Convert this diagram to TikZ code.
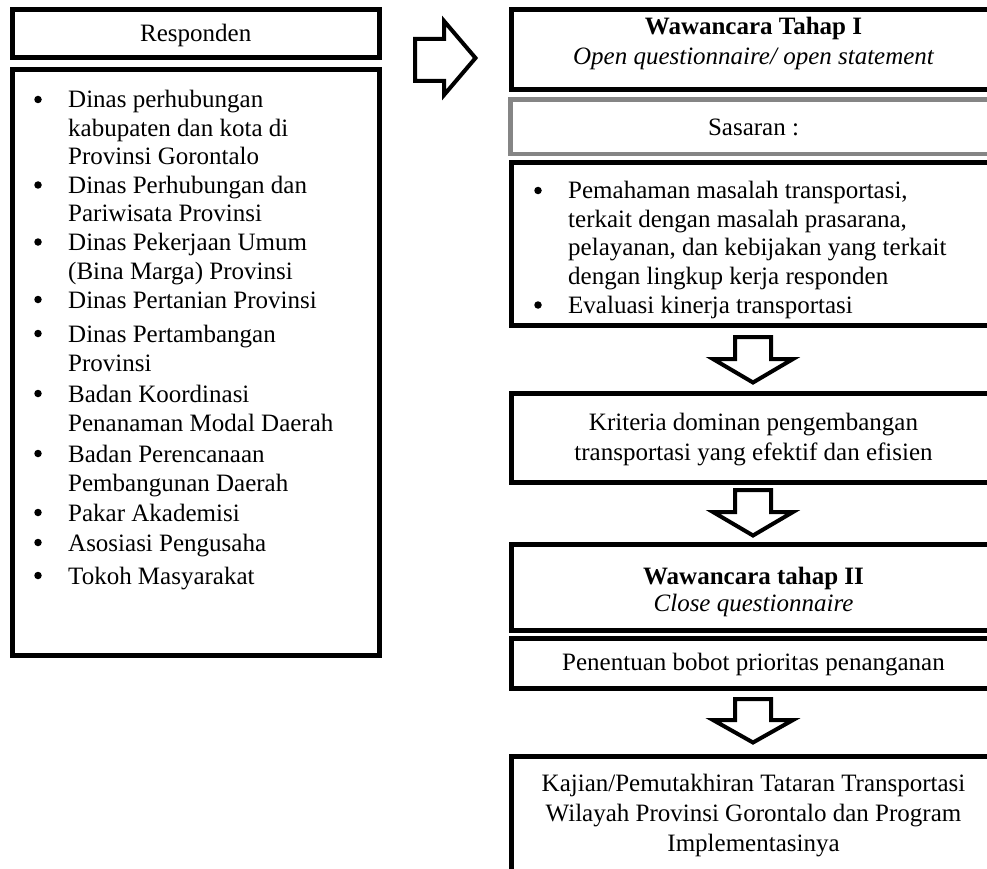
\documentclass[tikz,border=0pt]{standalone}
\usepackage{fontspec}
\setmainfont{Liberation Serif}
\usetikzlibrary{fit}
\definecolor{sasgray}{gray}{0.52}
\newcommand\dnarrow[4]{%
  \draw[blockarrow] (#1-18,#2) -- (#1+18,#2) -- (#1+18,#3) -- (#1+40,#3) -- (#1,#4) -- (#1-40,#3) -- (#1-18,#3) -- cycle;}
\begin{document}
\begin{tikzpicture}[x=1pt,y=-1pt,
  box/.style={draw=black, line width=5pt, inner sep=0pt},
  graybox/.style={draw=sasgray, line width=4.5pt, inner sep=0pt},
  blockarrow/.style={draw=black, line width=4pt, line join=miter},
  txt/.style={inner sep=0pt, font=\fontsize{25}{30}\selectfont},
  dot/.style={circle, fill=black, inner sep=0pt, minimum size=7.5pt},
  ]
\useasboundingbox (0,0) rectangle (987,869);
\clip (0,0) rectangle (987,869);

% ---------- left column ----------
\node[txt, anchor=base] (tresp) at (195.75,41.5) {Responden};

\node[dot] (b1) at (38,108-8.5) {};
\node[txt, anchor=base west] (l1) at (68,108) {Dinas perhubungan};
\node[txt, anchor=base west] (l2) at (68,136.5) {kabupaten dan kota di};
\node[txt, anchor=base west] (l3) at (68,165) {Provinsi Gorontalo};
\node[dot] (b2) at (38,193.5-8.5) {};
\node[txt, anchor=base west] (l4) at (68,193.5) {Dinas Perhubungan dan};
\node[txt, anchor=base west] (l5) at (68,222) {Pariwisata Provinsi};
\node[dot] (b3) at (38,250.5-8.5) {};
\node[txt, anchor=base west] (l6) at (68,250.5) {Dinas Pekerjaan Umum};
\node[txt, anchor=base west] (l7) at (68,279) {(Bina Marga) Provinsi};
\node[dot] (b4) at (38,308-8.5) {};
\node[txt, anchor=base west] (l8) at (68,308) {Dinas Pertanian Provinsi};
\node[dot] (b5) at (38,342-8.5) {};
\node[txt, anchor=base west] (l9) at (68,342) {Dinas Pertambangan};
\node[txt, anchor=base west] (l10) at (68,371) {Provinsi};
\node[dot] (b6) at (38,402-8.5) {};
\node[txt, anchor=base west] (l11) at (68,402) {Badan Koordinasi};
\node[txt, anchor=base west] (l12) at (68,431) {Penanaman Modal Daerah};
\node[dot] (b7) at (38,462-8.5) {};
\node[txt, anchor=base west] (l13) at (68,462) {Badan Perencanaan};
\node[txt, anchor=base west] (l14) at (68,491) {Pembangunan Daerah};
\node[dot] (b8) at (38,521-8.5) {};
\node[txt, anchor=base west] (l15) at (68,521) {Pakar Akademisi};
\node[dot] (b9) at (38,551-8.5) {};
\node[txt, anchor=base west] (l16) at (68,551) {Asosiasi Pengusaha};
\node[dot] (b10) at (38,584-8.5) {};
\node[txt, anchor=base west] (l17) at (68,584) {Tokoh Masyarakat};

\node[box, fit={(12,10) (379.5,58)}] (resp) {};
\node[box, fit={(12,69.5) (379.5,655.5)}] (list) {};

% right block arrow
\draw[blockarrow] (415,39) -- (444,39) -- (444,21) -- (475.5,58) -- (444,95) -- (444,81) -- (415,81) -- cycle;

% ---------- right column ----------
\node[txt, anchor=base, font=\fontsize{25}{30}\selectfont\bfseries] (tw1a) at (753.5,34.5) {Wawancara Tahap I};
\node[txt, anchor=base, font=\fontsize{25}{30}\selectfont\itshape] (tw1b) at (753.5,65) {Open questionnaire/ open statement};
\node[txt, anchor=base] (tsas) at (753.5,136) {Sasaran :};

\node[dot] (pb1) at (538,198.5-8) {};
\node[txt, anchor=base west] (p1) at (568,198.5) {Pemahaman masalah transportasi,};
\node[txt, anchor=base west] (p2) at (568,227) {terkait dengan masalah prasarana,};
\node[txt, anchor=base west] (p3) at (568,255.5) {pelayanan, dan kebijakan yang terkait};
\node[txt, anchor=base west] (p4) at (568,284) {dengan lingkup kerja responden};
\node[dot] (pb2) at (538,313-8) {};
\node[txt, anchor=base west] (p5) at (568,313) {Evaluasi kinerja transportasi};

\node[txt, anchor=base] (tk1) at (753.5,430) {Kriteria dominan pengembangan};
\node[txt, anchor=base] (tk2) at (753.5,460.5) {transportasi yang efektif dan efisien};

\node[txt, anchor=base, font=\fontsize{25}{30}\selectfont\bfseries] (tw2a) at (753.5,584) {Wawancara tahap II};
\node[txt, anchor=base, font=\fontsize{25}{30}\selectfont\itshape] (tw2b) at (753.5,611) {Close questionnaire};

\node[txt, anchor=base] (tpen) at (753.5,670.5) {Penentuan bobot prioritas penanganan};

\node[txt, anchor=base] (tkj1) at (753.5,791) {Kajian/Pemutakhiran Tataran Transportasi};
\node[txt, anchor=base] (tkj2) at (753.5,821) {Wilayah Provinsi Gorontalo dan Program};
\node[txt, anchor=base] (tkj3) at (753.5,851) {Implementasinya};

\node[box, fit={(511,10) (996,90)}] (w1) {};
\node[graybox, fit={(510.5,99.5) (996,154)}] (sas) {};
\node[box, fit={(511,163) (996,325.5)}] (pem) {};
\node[box, fit={(511,393) (996,482)}] (krit) {};
\node[box, fit={(511,544.5) (996,630)}] (w2) {};
\node[box, fit={(511,638.5) (996,688)}] (pen) {};
\node[box, fit={(511,756) (996,900)}] (kaj) {};

\dnarrow{753}{337}{359}{382.5}
\dnarrow{753}{490}{512}{535.5}
\dnarrow{753}{699}{720}{742.5}
\end{tikzpicture}
\end{document}
